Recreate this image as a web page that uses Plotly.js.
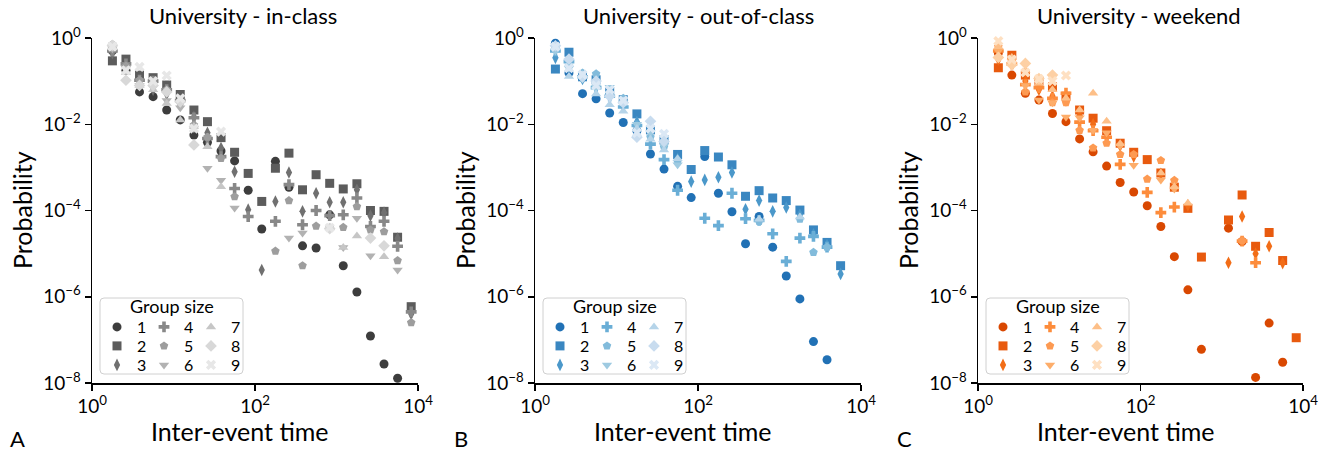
<!DOCTYPE html>
<html>
<head>
<meta charset="utf-8">
<script src="https://cdn.plot.ly/plotly-3.0.1.min.js"></script>
<style>
  html, body { margin: 0; padding: 0; background: #ffffff; }
  #chart { width: 1329px; height: 456px; }
</style>
</head>
<body>
<div id="chart"></div>
<script>
// Bin centres of the inter-event time histogram (shared by all panels)
const interEventTime = [1.78, 2.61, 3.83, 5.62, 8.25, 12.1, 17.8, 26.1, 38.3, 56.2, 82.5, 121,
                        178, 261, 383, 562, 825, 1210, 1780, 2610, 3830, 5620, 8250];

const groupSizes = ['1', '2', '3', '4', '5', '6', '7', '8', '9'];

// log10(probability) per group size, university in-class
const inClass1 = [-0.30,-0.75,-1.25,-1.36,-1.67,-1.90,-2.25,-2.42,-2.62,-2.85,-3.53,-4.43,-2.86,-3.46,-4.82,-4.87,-4.10,-5.28,-5.89,-6.91,-7.56,-7.89,null];
const inClass2 = [-0.53,-0.49,-0.86,-0.92,-1.09,-1.31,-1.67,-1.94,-2.31,-2.65,-3.14,-3.79,-3.02,-2.67,-3.52,-3.17,-3.37,-3.50,-3.38,-4.00,-4.02,-4.62,-6.23];
const inClass3 = [-0.35,-0.70,-1.09,-1.20,-1.30,-1.50,-1.83,-2.20,-2.55,-3.10,-3.98,-5.38,-3.79,-3.12,-4.02,-3.60,-3.81,-3.81,-3.52,-4.12,-4.05,-4.65,-6.40];
const inClass4 = [-0.30,-0.60,-0.98,-1.00,-1.20,-1.45,-1.85,-2.33,-2.75,-3.49,-4.14,null,-4.25,-3.40,-4.33,-4.00,-4.12,-4.10,-3.71,-4.37,-4.25,-4.83,-6.35];
const inClass5 = [-0.15,-0.65,-0.98,-1.05,-1.20,-1.50,-2.02,-2.30,-2.79,-3.68,null,null,-4.94,-3.77,-5.28,-4.36,-4.40,-4.39,-3.91,-4.45,-4.49,-5.16,-6.60];
const inClass6 = [-0.25,-0.70,-1.10,-1.15,-1.45,-1.62,-2.10,-3.02,-3.30,-3.94,null,null,null,-4.64,-4.52,null,null,-4.86,-4.18,-5.05,null,-5.38,null];
const inClass7 = [-0.20,-0.80,-1.10,-1.20,-1.52,-1.90,-2.05,-2.52,-3.45,null,null,null,null,null,null,null,-4.40,-4.86,-4.59,null,-5.07,null,null];
const inClass8 = [-0.17,-0.98,-1.10,-1.10,-1.25,-1.48,-2.48,null,null,null,null,null,null,null,null,null,-4.42,null,null,-4.64,-4.82,null,null];
const inClass9 = [-0.20,-0.75,-0.67,-1.00,-0.87,-1.40,-2.10,null,-2.17,null,null,null,null,null,null,null,-4.40,null,null,null,null,null,null];

// log10(probability) per group size, university out-of-class
const outClass1 = [-0.12,-0.81,-1.29,-1.41,-1.74,-1.96,-2.15,-2.69,-3.04,-3.44,-3.70,-2.75,-3.60,-4.03,-4.77,-4.14,-4.85,-5.52,-6.05,-7.04,-7.46,null,null];
const outClass2 = [-0.72,-0.33,-0.90,-0.97,-1.24,-1.43,-1.76,-2.13,-2.36,-2.70,-3.05,-2.61,-2.76,-2.94,-3.67,-3.54,-3.71,-3.77,-3.99,-4.45,-4.74,-5.28,null];
const outClass3 = [-0.46,-0.60,-0.95,-1.10,-1.30,-1.55,-1.95,-2.20,-2.50,-2.80,-3.33,-3.29,-3.23,-3.12,-3.97,-3.77,-4.02,-3.93,-4.10,-4.55,-4.80,-5.47,null];
const outClass4 = [-0.30,-0.55,-0.90,-1.15,-1.35,-1.60,-2.03,-2.46,-2.82,-3.53,null,-4.18,-4.35,-3.60,-4.19,-4.23,-4.54,-5.18,-4.64,-4.60,-4.85,null,null];
const outClass5 = [-0.25,-0.65,-0.81,-0.83,-1.30,-1.40,-2.28,-2.30,-2.53,-2.86,null,null,null,null,null,-4.25,null,null,-4.20,-4.97,-4.85,null,null];
const outClass6 = [-0.30,-0.70,-0.95,-1.15,-1.14,-1.50,-2.00,-2.20,-2.50,-2.94,null,null,null,null,null,null,null,null,null,null,null,null,null];
const outClass7 = [-0.20,-0.89,-0.85,-1.30,-1.55,-1.70,-2.10,-2.35,-2.60,-2.80,null,null,null,null,null,-4.20,null,null,-4.15,null,null,null,null];
const outClass8 = [-0.18,-0.49,-0.90,-1.00,-1.35,-1.50,-2.30,-1.93,-2.40,null,null,null,null,null,null,null,null,null,null,null,null,null,null];
const outClass9 = [-0.20,-0.70,-0.85,-1.10,-1.20,-1.45,-2.20,-2.10,-2.22,null,null,null,null,null,null,null,null,null,null,null,null,null,null];

// log10(probability) per group size, university weekend
const weekend1 = [-0.35,-0.86,-1.28,-1.44,-1.75,-1.94,-2.34,-2.64,-2.97,-3.35,-3.57,-3.89,-4.37,-5.07,-5.84,-7.22,null,-4.41,-4.72,-7.87,-6.61,-7.52,null];
const weekend2 = [-0.69,-0.40,-0.86,-1.00,-1.13,-1.35,-1.67,-1.86,-2.15,-2.44,-2.65,-2.82,-3.13,-3.46,-3.95,-5.08,null,-4.22,-3.64,-4.83,-4.51,-5.16,-6.95];
const weekend3 = [-0.50,-0.50,-1.00,-1.20,-1.35,-1.45,-1.80,-2.00,-2.30,-2.50,-2.75,null,-3.15,null,-3.88,null,null,-5.21,-4.14,-5.00,-4.83,-5.22,null];
const weekend4 = [-0.30,-0.60,-1.08,-1.15,-1.40,-1.28,-1.95,-2.15,-2.30,-2.93,null,-3.58,-4.05,-3.92,null,null,null,null,-4.71,-5.21,null,null,null];
const weekend5 = [-0.20,-0.55,-1.25,-0.94,-1.50,-1.50,-2.14,-2.55,-2.44,-2.70,-2.70,-3.27,-2.84,-3.30,null,null,null,null,-4.70,null,null,null,null];
const weekend6 = [-0.30,-0.60,-1.10,-1.44,-1.50,-1.83,-1.85,-2.14,-2.20,-2.50,-2.95,null,-3.29,-3.50,null,null,null,null,null,null,null,null,null];
const weekend7 = [-0.20,-0.45,-0.75,-1.05,-1.20,-1.40,-1.67,-1.28,-1.93,-2.45,null,null,-3.13,-3.45,-3.83,null,null,null,null,null,null,null,null];
const weekend8 = [-0.45,-0.62,-0.59,-0.94,-0.86,null,null,null,null,null,null,null,null,null,null,null,null,null,null,null,null,null,null];
const weekend9 = [-0.07,-0.50,-0.80,-0.95,-1.00,-0.87,null,null,null,null,null,null,null,null,null,null,null,null,null,null,null,null,null];

const panelTitles = ['University - in-class', 'University - out-of-class', 'University - weekend'];
const panelLetters = ['A', 'B', 'C'];
const xTickVals = [1, 100, 10000];
const xTickText = ['10<sup>0</sup>', '10<sup>2</sup>', '10<sup>4</sup>'];
const yTickVals = [1, 1e-2, 1e-4, 1e-6, 1e-8];
const yTickText = ['10<sup>0</sup>', '10<sup>−2</sup>', '10<sup>−4</sup>', '10<sup>−6</sup>', '10<sup>−8</sup>'];

const panelSeries = [
  [inClass1, inClass2, inClass3, inClass4, inClass5, inClass6, inClass7, inClass8, inClass9],
  [outClass1, outClass2, outClass3, outClass4, outClass5, outClass6, outClass7, outClass8, outClass9],
  [weekend1, weekend2, weekend3, weekend4, weekend5, weekend6, weekend7, weekend8, weekend9]
];

// ---- styling ----
const palettes = [
  ['#3d3d3d', '#5c5c5c', '#707070', '#888888', '#9d9d9d', '#b2b2b2', '#c6c6c6', '#d8d8d8', '#e7e7e7'],
  ['#2171b5', '#3a87c1', '#4b98ca', '#6aaed6', '#82bbdb', '#9ecae1', '#b5d4e9', '#c8dcef', '#dbe8f5'],
  ['#d94801', '#e85a0e', '#f26d17', '#fd8c3b', '#fd9a52', '#fdad6a', '#fdbf88', '#fdd0a4', '#fee0c2']
];
const symbols = ['circle', 'square', 'diamond-tall', 'cross', 'pentagon',
                 'triangle-down', 'triangle-up', 'diamond', 'x'];
const FONT = 'Lato, "Open Sans", "DejaVu Sans", sans-serif';

const W = 1329, H = 456;
const M = { l: 92, r: 26, t: 38, b: 73 };
const plotW = W - M.l - M.r;   // 1211
const plotH = H - M.t - M.b;   // 345
const px = x => (x - M.l) / plotW;          // page x (px) -> paper
const py = y => (H - M.b - y) / plotH;      // page y (px) -> paper
const panelLeft = [92, 535, 978];
const panelRight = [418, 861, 1303];

const toProb = v => (v === null ? null : Math.pow(10, v));

const traces = [];
const layout = {
  width: W, height: H,
  margin: M,
  paper_bgcolor: '#ffffff',
  plot_bgcolor: '#ffffff',
  font: { family: FONT, color: '#000000', size: 16 },
  showlegend: true,
  annotations: [],
  shapes: []
};

panelSeries.forEach((series, p) => {
  const sfx = p === 0 ? '' : String(p + 1);
  const xa = 'x' + sfx, ya = 'y' + sfx;

  series.forEach((vals, i) => {
    const row = i % 3;                       // legend laid out 3 x 3, column-wise
    const col = Math.floor(i / 3);
    const legendIdx = p * 3 + row + 1;
    traces.push({
      type: 'scatter', mode: 'markers',
      x: interEventTime, y: vals.map(toProb),
      xaxis: xa, yaxis: ya,
      name: groupSizes[i],
      legend: legendIdx === 1 ? 'legend' : 'legend' + legendIdx,
      legendwidth: col === 2 ? 14 : 2,
      marker: { symbol: symbols[i], size: 9, color: palettes[p][i], line: { width: 0 } },
      cliponaxis: false,
      hoverinfo: 'x+y+name'
    });
  });

  layout['xaxis' + sfx] = {
    type: 'log', range: [0, 4],
    domain: [px(panelLeft[p]), px(panelRight[p])],
    anchor: ya,
    tickvals: xTickVals, ticktext: xTickText,
    ticks: 'outside', ticklen: 6, tickwidth: 1.5, tickcolor: '#000000',
    showline: true, linecolor: '#000000', linewidth: 1.5,
    showgrid: false, zeroline: false,
    tickfont: { size: 19, family: FONT },
    automargin: false
  };
  layout['yaxis' + sfx] = {
    type: 'log', range: [-8, 0],
    domain: [0, 1],
    anchor: xa,
    tickvals: yTickVals, ticktext: yTickText,
    ticks: 'outside', ticklen: 6, tickwidth: 1.5, tickcolor: '#000000',
    showline: true, linecolor: '#000000', linewidth: 1.5,
    showgrid: false, zeroline: false,
    tickfont: { size: 19, family: FONT },
    automargin: false
  };

  // legend rows: (1,4,7), (2,5,8), (3,6,9)
  const rowY = [327, 346, 365];
  rowY.forEach((yy, row) => {
    const idx = p * 3 + row + 1;
    layout[idx === 1 ? 'legend' : 'legend' + idx] = {
      orientation: 'h',
      x: px(panelLeft[p] + 5), xanchor: 'left',
      y: py(yy), yanchor: 'middle',
      bgcolor: 'rgba(0,0,0,0)', borderwidth: 0,
      font: { size: 16, family: FONT, color: '#000000' },
      entrywidth: 2, entrywidthmode: 'pixels',
      itemwidth: 30, traceorder: 'normal'
    };
  });

  // rounded legend frame
  const bx0 = px(panelLeft[p] + 8), bx1 = px(panelLeft[p] + 151);
  const by0 = py(374), by1 = py(298);
  const rx = 4 / plotW, ry = 4 / plotH;
  layout.shapes.push({
    type: 'path', xref: 'paper', yref: 'paper', layer: 'above',
    path: `M ${bx0 + rx} ${by0} L ${bx1 - rx} ${by0} Q ${bx1} ${by0} ${bx1} ${by0 + ry} ` +
          `L ${bx1} ${by1 - ry} Q ${bx1} ${by1} ${bx1 - rx} ${by1} L ${bx0 + rx} ${by1} ` +
          `Q ${bx0} ${by1} ${bx0} ${by1 - ry} L ${bx0} ${by0 + ry} Q ${bx0} ${by0} ${bx0 + rx} ${by0} Z`,
    fillcolor: 'rgba(255,255,255,0.8)',
    line: { color: '#d0d0d0', width: 1 }
  });
  layout.annotations.push({
    text: 'Group size', xref: 'paper', yref: 'paper',
    x: px(panelLeft[p] + 79.5), y: py(306), xanchor: 'center', yanchor: 'middle',
    showarrow: false, font: { size: 18, family: FONT }
  });

  // panel title, axis titles and panel letter
  const titleX = [243, 698, 1139][p];
  const xTitleX = [240, 683, 1126][p];
  const yTitleX = [22, 465, 908][p];
  const letterX = [17, 461, 904][p];
  layout.annotations.push({
    text: panelTitles[p], xref: 'paper', yref: 'paper',
    x: px(titleX), y: py(15), xanchor: 'center', yanchor: 'middle',
    showarrow: false, font: { size: 22, family: FONT }
  });
  layout.annotations.push({
    text: 'Inter-event time', xref: 'paper', yref: 'paper',
    x: px(xTitleX), y: py(431), xanchor: 'center', yanchor: 'middle',
    showarrow: false, font: { size: 25, family: FONT }
  });
  layout.annotations.push({
    text: 'Probability', xref: 'paper', yref: 'paper', textangle: -90,
    x: px(yTitleX), y: py(210), xanchor: 'center', yanchor: 'middle',
    showarrow: false, font: { size: 25, family: FONT }
  });
  layout.annotations.push({
    text: panelLetters[p], xref: 'paper', yref: 'paper',
    x: px(letterX), y: py(438), xanchor: 'center', yanchor: 'middle',
    showarrow: false, font: { size: 22, family: FONT }
  });
});

Plotly.newPlot('chart', traces, layout, { displayModeBar: false, staticPlot: true });
</script>
</body>
</html>
